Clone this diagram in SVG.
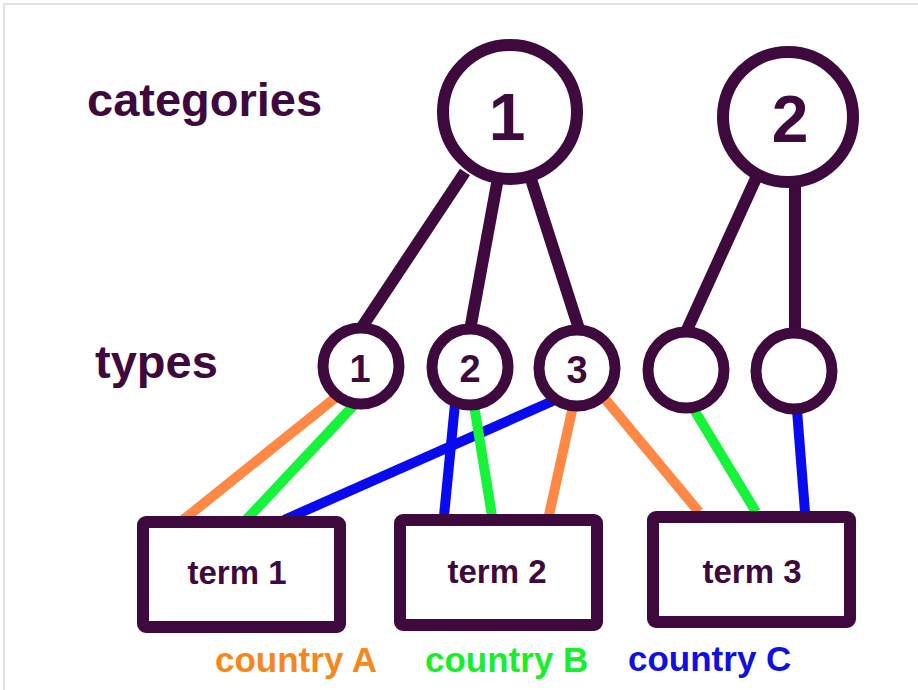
<svg xmlns="http://www.w3.org/2000/svg" width="918" height="690" viewBox="0 0 918 690">
<style>
.bg{fill:#fff}
.frame{fill:none;stroke:#e2e2e0;stroke-width:2}
.node{fill:#fff;stroke:#3e0a3e}
.cat{stroke-width:12}
.typ{stroke-width:11}
.box{stroke-width:12}
.tree{stroke:#3e0a3e;stroke-width:12;stroke-linecap:butt}
.col{stroke-width:10}
.o{stroke:#ff8845}
.g{stroke:#16f43a}
.b{stroke:#0a0af0}
text{font-family:"Liberation Sans",Arial,sans-serif;font-weight:bold;fill:#3e0a3e}
.num{text-anchor:middle}
.lbl{font-size:47px}
.term{font-size:33px;text-anchor:middle}
.cty{font-size:35px}
</style>
<rect class="bg" x="0" y="0" width="918" height="690"/>
<path class="frame" d="M4 690 V4 H918"/>
<g id="connectors">
  <line class="tree" x1="465" y1="172" x2="360" y2="330"/>
  <line class="tree" x1="498" y1="178" x2="470" y2="330"/>
  <line class="tree" x1="530" y1="176" x2="580" y2="332"/>
  <line class="tree" x1="757" y1="176" x2="686" y2="332"/>
  <line class="tree" x1="795" y1="180" x2="795" y2="333"/>
  <line class="col o" x1="335" y1="398" x2="183" y2="520"/>
  <line class="col g" x1="355" y1="404" x2="246" y2="520"/>
  <line class="col b" x1="555" y1="400" x2="284" y2="520"/>
  <line class="col b" x1="455" y1="404" x2="444" y2="516"/>
  <line class="col g" x1="474" y1="405" x2="492" y2="516"/>
  <line class="col o" x1="573" y1="406" x2="549" y2="515"/>
  <line class="col o" x1="606" y1="400" x2="699" y2="512"/>
  <line class="col g" x1="693" y1="408" x2="756" y2="512"/>
  <line class="col b" x1="797" y1="410" x2="805" y2="512"/>
</g>
<g id="label-categories"><text class="lbl" x="87" y="116">categories</text></g>
<g id="label-types"><text class="lbl" x="95" y="378">types</text></g>
<g id="cat1"><circle class="node cat" cx="510" cy="112" r="67"/><text class="num" x="507" y="140" font-size="66">1</text></g>
<g id="cat2"><circle class="node cat" cx="788" cy="117" r="65"/><text class="num" x="790" y="142" font-size="66">2</text></g>
<g id="type1"><circle class="node typ" cx="361" cy="366" r="38"/><text class="num" x="360" y="382" font-size="38">1</text></g>
<g id="type2"><circle class="node typ" cx="470" cy="367" r="38"/><text class="num" x="470" y="382" font-size="38">2</text></g>
<g id="type3"><circle class="node typ" cx="577" cy="368" r="38"/><text class="num" x="577" y="383" font-size="38">3</text></g>
<g id="type4"><circle class="node typ" cx="686" cy="370" r="38"/></g>
<g id="type5"><circle class="node typ" cx="794" cy="371" r="38"/></g>
<g id="term1"><rect class="node box" x="143" y="522" width="197" height="105" rx="3"/><text class="term" x="237" y="584">term 1</text></g>
<g id="term2"><rect class="node box" x="400" y="520" width="197" height="105" rx="3"/><text class="term" x="497" y="583">term 2</text></g>
<g id="term3"><rect class="node box" x="653" y="517" width="197" height="105" rx="3"/><text class="term" x="752" y="583">term 3</text></g>
<g id="legend">
  <text class="cty" x="215" y="672" style="fill:#f5871c">country A</text>
  <text class="cty" x="425" y="672" style="fill:#16f02a">country B</text>
  <text class="cty" x="628" y="671" style="fill:#1010e0">country C</text>
</g>
</svg>
